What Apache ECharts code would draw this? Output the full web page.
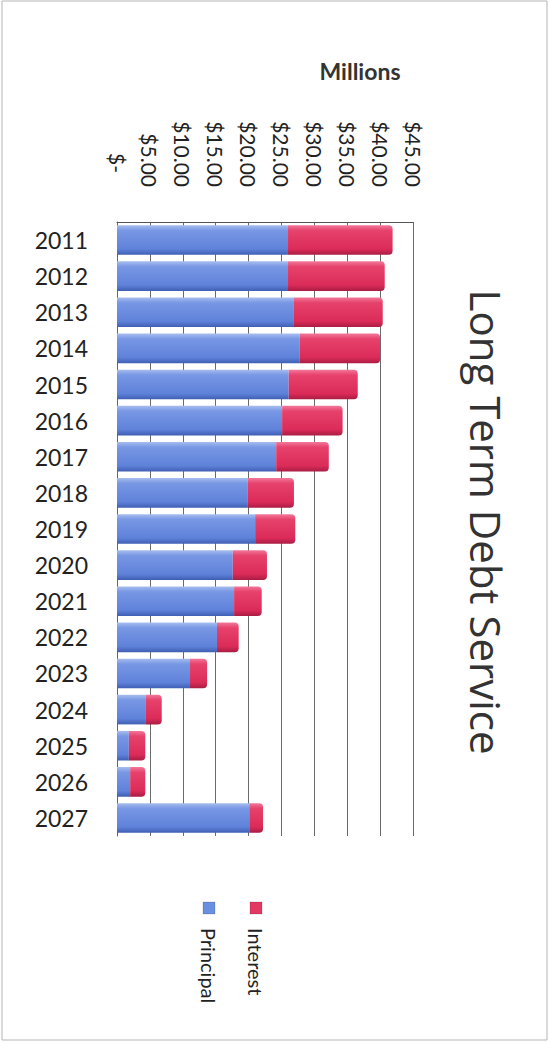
<!DOCTYPE html>
<html>
<head>
<meta charset="utf-8">
<script src="https://cdn.jsdelivr.net/npm/echarts@6/dist/echarts.min.js"></script>
<style>
  html, body { margin: 0; padding: 0; background: #ffffff; }
  #chart { width: 550px; height: 1042px; }
</style>
</head>
<body>
<div id="chart"></div>
<script>
// ---- data ----
const titleText = 'Long Term Debt Service';
const unitText = 'Millions';
const years = ['2011','2012','2013','2014','2015','2016','2017','2018','2019','2020','2021','2022','2023','2024','2025','2026','2027'];
const principal = [26.0, 26.0, 26.9, 27.8, 26.1, 25.1, 24.2, 19.9, 21.0, 17.6, 17.8, 15.2, 11.1, 4.4, 1.8, 2.0, 20.1];
const interest  = [15.9, 14.7, 13.5, 12.2, 10.5, 9.2, 8.0, 7.0, 6.1, 5.2, 4.2, 3.3, 2.6, 2.4, 2.5, 2.3, 2.1];
const seriesNames = ['Principal', 'Interest'];
const axisMin = 0, axisMax = 45, axisStep = 5;

// ---- styles ----
const FONT = 'Lato, "Open Sans", sans-serif';
const blueGrad = new echarts.graphic.LinearGradient(0, 0, 0, 1, [
  { offset: 0, color: '#a7bdf0' },
  { offset: 0.18, color: '#7897e4' },
  { offset: 0.8, color: '#5f82da' },
  { offset: 1, color: '#3f5fb3' }
]);
const redGrad = new echarts.graphic.LinearGradient(0, 0, 0, 1, [
  { offset: 0, color: '#f2789a' },
  { offset: 0.18, color: '#e6426c' },
  { offset: 0.8, color: '#dc2b59' },
  { offset: 1, color: '#a91d43' }
]);
const legendColors = ['#6a8ee0', '#e23862'];

const chart = echarts.init(document.getElementById('chart'), null, { renderer: 'svg' });

const legendItems = [
  { name: seriesNames[1], x: 256 },
  { name: seriesNames[0], x: 209 }
];
const legendGraphics = [];
legendItems.forEach(function (it) {
  const idx = seriesNames.indexOf(it.name);
  legendGraphics.push({
    type: 'rect',
    shape: { x: it.x - 6, y: 902, width: 12, height: 12 },
    style: { fill: legendColors[idx], stroke: 'rgba(0,0,0,0.15)', lineWidth: 1 }
  });
  legendGraphics.push({
    type: 'text',
    x: it.x, y: 928,
    rotation: -Math.PI / 2,
    style: {
      text: it.name, fontFamily: FONT, fontSize: 20, fill: '#222',
      align: 'left', verticalAlign: 'middle'
    }
  });
});

const option = {
  backgroundColor: '#ffffff',
  animation: false,
  grid: { left: 117, right: 137, top: 222, bottom: 206, containLabel: false },
  xAxis: {
    type: 'value',
    position: 'top',
    min: axisMin, max: axisMax, interval: axisStep,
    axisLine: { show: true, lineStyle: { color: '#555', width: 1 } },
    axisTick: { show: false },
    splitLine: { show: true, lineStyle: { color: '#6a6a6a', width: 1 } },
    axisLabel: {
      rotate: 90,
      margin: 35,
      formatter: function (v) {
        return v === 0 ? '{z|$-}' : '{n|$' + v.toFixed(2) + '}';
      },
      rich: {
        n: { fontFamily: FONT, fontSize: 21, color: '#222' },
        z: { fontFamily: FONT, fontSize: 21, color: '#222', padding: [0, 14, 0, 0] }
      }
    }
  },
  yAxis: {
    type: 'category',
    data: years,
    inverse: true,
    axisLine: { show: true, lineStyle: { color: '#666', width: 1 } },
    axisTick: { show: false },
    axisLabel: { margin: 29, fontFamily: FONT, fontSize: 23, color: '#222' }
  },
  series: [
    {
      name: seriesNames[0], type: 'bar', stack: 'total',
      data: principal, barWidth: '82%',
      itemStyle: { color: blueGrad }
    },
    {
      name: seriesNames[1], type: 'bar', stack: 'total',
      data: interest, barWidth: '82%',
      itemStyle: { color: redGrad, borderRadius: [0, 4, 4, 0] }
    }
  ],
  graphic: [
    {
      type: 'text', x: 360, y: 71,
      style: { text: unitText, fontFamily: FONT, fontWeight: 'bold', fontSize: 23, fill: '#333', align: 'center', verticalAlign: 'middle' }
    },
    {
      type: 'text', x: 486, y: 522,
      rotation: -Math.PI / 2,
      style: { text: titleText, fontFamily: '"Open Sans", Lato, sans-serif', fontSize: 42, fill: '#333', align: 'center', verticalAlign: 'middle' }
    },
    {
      type: 'rect',
      shape: { x: 2, y: 1, width: 545, height: 1039 },
      style: { fill: 'none', stroke: '#b5b5b5', lineWidth: 1 }
    }
  ].concat(legendGraphics)
};
chart.setOption(option);
</script>
</body>
</html>
